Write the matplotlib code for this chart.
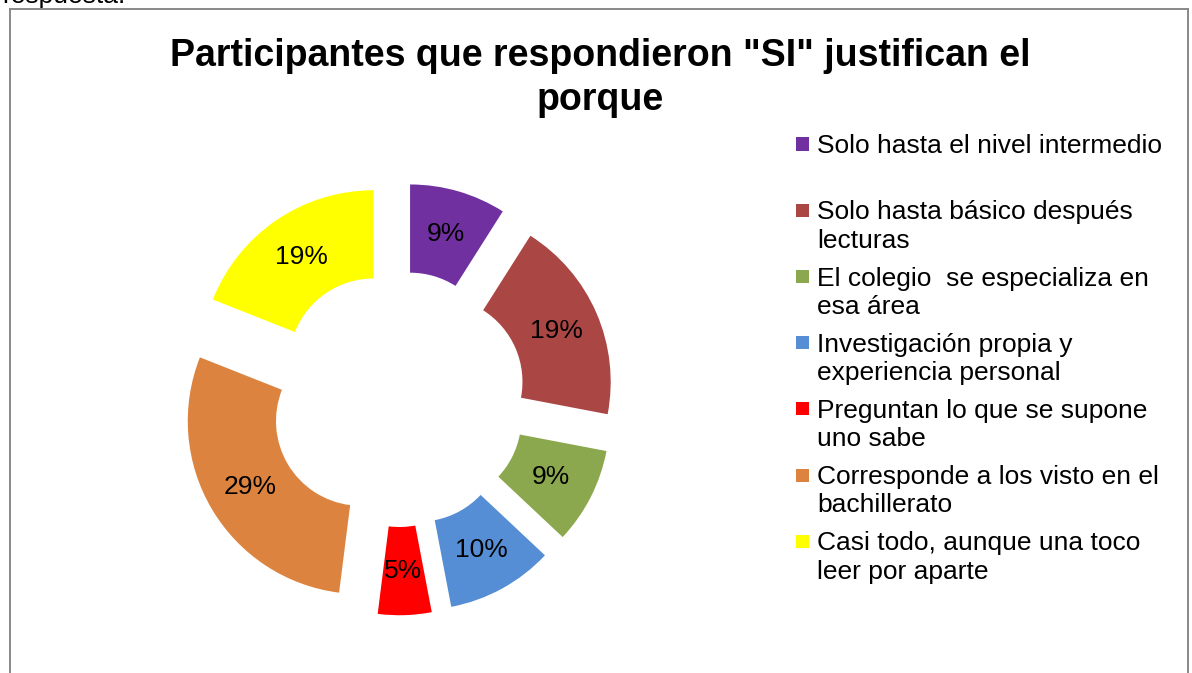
import matplotlib
matplotlib.use("Agg")
import matplotlib.pyplot as plt
from matplotlib.patches import Rectangle
from matplotlib.lines import Line2D

plt.rcParams['font.family'] = ['Liberation Sans', 'DejaVu Sans']

# data
categories = [
    "Solo hasta el nivel intermedio",
    "Solo hasta básico después\nlecturas",
    "El colegio  se especializa en\nesa área",
    "Investigación propia y\nexperiencia personal",
    "Preguntan lo que se supone\nuno sabe",
    "Corresponde a los visto en el\nbachillerato",
    "Casi todo, aunque una toco\nleer por aparte",
]
percentages = [9, 19, 9, 10, 5, 29, 19]
colors = ["#7030A0", "#AA4644", "#8BA84E", "#558ED5", "#FF0000", "#DC843F", "#FFFF00"]

title = 'Participantes que respondieron "SI" justifican el\nporque'

W, H = 1192, 673
fig = plt.figure(figsize=(W / 100, H / 100), dpi=100)

# pie axes: center at (398, 399) px, outer radius 173 px
cx, cy, R = 398, 399, 173
half = 250
ax = fig.add_axes([(cx - half) / W, (H - cy - half) / H, 2 * half / W, 2 * half / H])
ax.pie(percentages, colors=colors, startangle=90, counterclock=False,
       explode=[0.25] * len(percentages), radius=1.0,
       autopct='%1.0f%%', pctdistance=0.745,
       wedgeprops=dict(width=0.51, linewidth=0),
       textprops=dict(fontsize=19, color='black'))
ax.set_xlim(-half / R, half / R)
ax.set_ylim(-half / R, half / R)
ax.set_aspect('equal')
ax.axis('off')

# title
fig.text(600 / W, 1 - 38 / H, title, ha='center', va='top', fontsize=27,
         fontweight='bold', linespacing=1.28)

# legend drawn by hand so markers line up with first line of each label
x_mark, x_text = 796, 817
y0, step = 144, 66.2
for i, (lab, col) in enumerate(zip(categories, colors)):
    yc = y0 + i * step
    fig.add_artist(Rectangle((x_mark / W, 1 - (yc + 6.5) / H), 13 / W, 13 / H,
                             transform=fig.transFigure, color=col, lw=0))
    fig.text(x_text / W, 1 - (yc - 9.8) / H, lab, ha='left', va='top',
             fontsize=19, linespacing=1.22)

# chart border (bottom edge is cut off)
bc = '#898989'
fig.add_artist(Line2D([10 / W, 10 / W], [0, 1 - 9 / H], color=bc, lw=1.4))
fig.add_artist(Line2D([10 / W, 1188 / W], [1 - 9 / H, 1 - 9 / H], color=bc, lw=1.4))
fig.add_artist(Line2D([1188 / W, 1188 / W], [0, 1 - 9 / H], color=bc, lw=1.4))

# cut-off text from the document above
fig.text(2 / W, 1 - 3 / H, "respuesta.", ha='left', va='baseline', fontsize=19)

fig.savefig("out.png", dpi=100)
